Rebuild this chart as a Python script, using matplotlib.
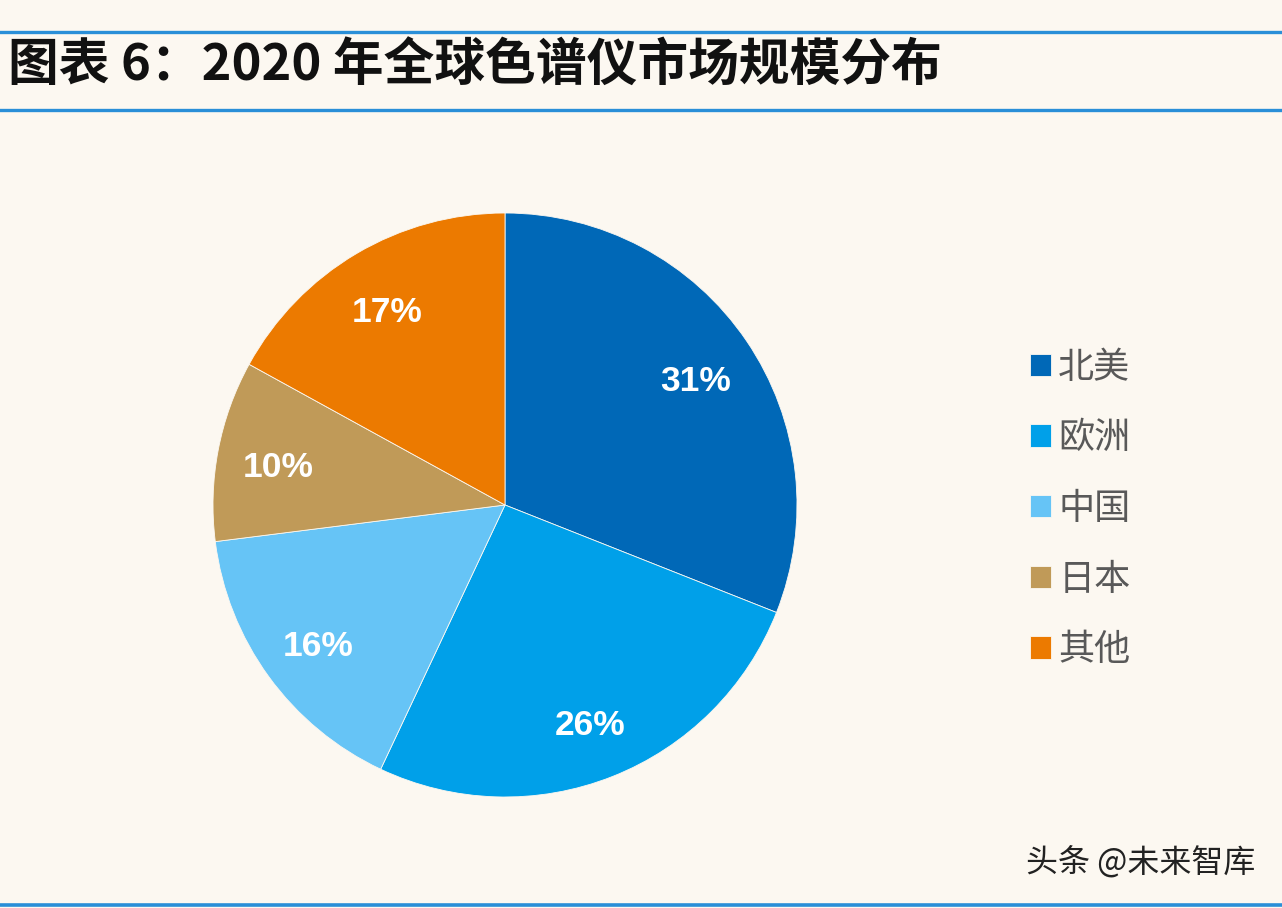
import matplotlib
matplotlib.use("Agg")
import matplotlib.pyplot as plt
from matplotlib.lines import Line2D
from matplotlib.transforms import offset_copy

plt.rcParams['font.family'] = ['Noto Sans CJK SC', 'DejaVu Sans']

title = "图表 6：2020 年全球色谱仪市场规模分布"
categories = ["北美", "欧洲", "中国", "日本", "其他"]
values = [31, 26, 16, 10, 17]
colors = ["#0068b7", "#00a0e9", "#66c4f6", "#c09a58", "#ec7a00"]
watermark = "头条 @未来智库"

W, H = 1282, 908
bg = "#fcf8f1"
fig = plt.figure(figsize=(W / 100, H / 100), dpi=100, facecolor=bg)

# header / footer lines
line_color = "#2a8fd8"
for yp, lw in [(32, 2.4), (110, 2.4), (905, 2.6)]:
    fig.add_artist(Line2D([0, 1], [1 - yp / H, 1 - yp / H], color=line_color,
                          lw=lw, transform=fig.transFigure))

fig.text(8 / W, 1 - 66 / H, title, fontsize=36.5, fontweight='bold',
         style='italic', color='#111111', ha='left', va='center')

# pie
cx, cy, r = 505, 505, 292
ax = fig.add_axes([(cx - r) / W, 1 - (cy + r) / H, 2 * r / W, 2 * r / H])
ax.set_facecolor(bg)
wedges, texts, autotexts = ax.pie(
    values, colors=colors, startangle=90, counterclock=False,
    autopct=lambda p: f"{p:.0f}%", pctdistance=0.79, radius=1,
    wedgeprops=dict(edgecolor=bg, linewidth=0.6),
    textprops=dict(color='white', fontsize=21, fontweight='bold'))
shift = offset_copy(ax.transData, fig=fig, x=0, y=-6, units='dots')
for t in autotexts:
    t.set_fontfamily(['Liberation Sans', 'DejaVu Sans'])
    t.set_fontweight('bold')
    t.set_fontsize(25.5)
    t.set_transform(shift)
ax.set_xlim(-1, 1)
ax.set_ylim(-1, 1)
ax.set_aspect('equal')
ax.axis('off')

leg = fig.legend(wedges, categories, loc='center left',
                 bbox_to_anchor=(1030 / W, 1 - 509 / H), frameon=False,
                 fontsize=26, labelcolor='#595959', borderpad=0,
                 borderaxespad=0, handlelength=0.58, handleheight=0.58,
                 handletextpad=0.2, labelspacing=0.96)

fig.text(1255 / W, 1 - 862 / H, watermark, fontsize=23, color='#222222',
         ha='right', va='center')

fig.savefig("out.png", dpi=100, facecolor=bg)
